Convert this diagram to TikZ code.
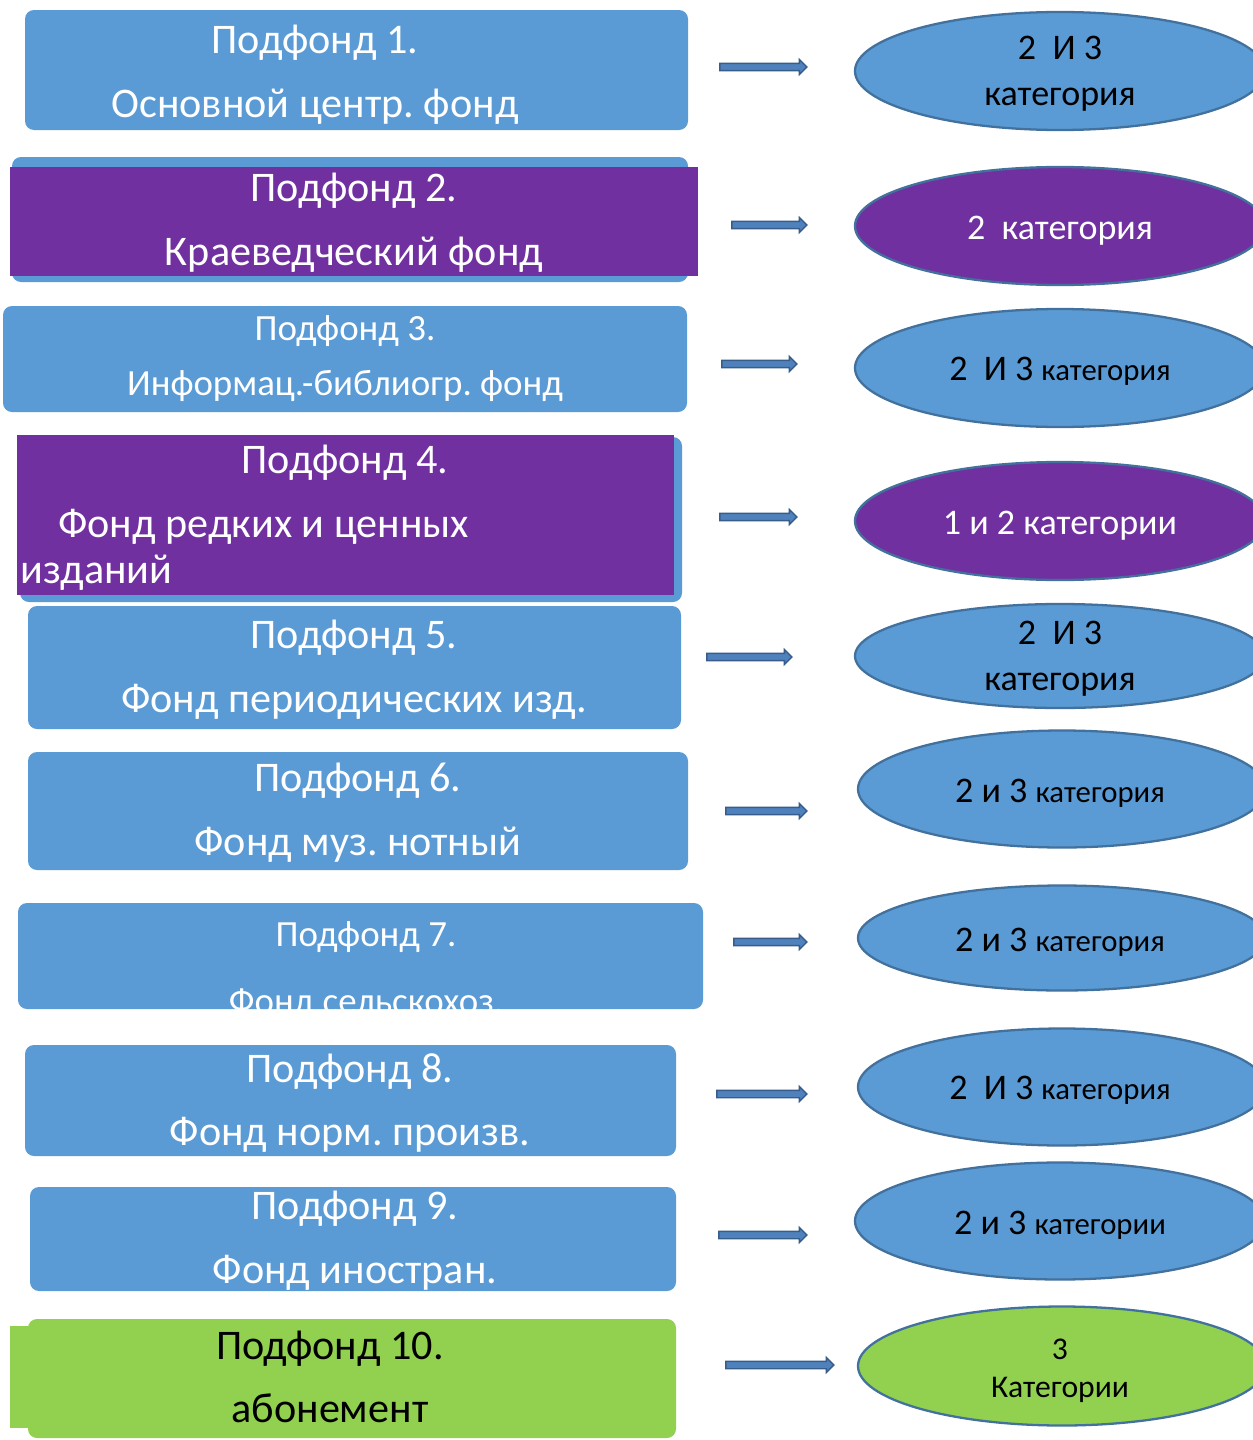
\documentclass[tikz,border=0pt]{standalone}
\usepackage{fontspec}
\setmainfont{Carlito}
\frenchspacing
\usetikzlibrary{shapes.geometric,shapes.arrows}
\definecolor{bfill}{HTML}{5B9BD5}
\definecolor{pfill}{HTML}{7030A0}
\definecolor{gfill}{HTML}{92D050}
\definecolor{eline}{HTML}{41719C}
\definecolor{afill}{HTML}{4F81BD}
\definecolor{aline}{HTML}{385D8A}
\def\pxu{0.02cm}
\tikzset{
  box/.style={rectangle, rounded corners=0.18cm, inner sep=0pt, fill=#1},
  flat/.style={rectangle, inner sep=0pt, fill=#1},
  oval/.style={ellipse, draw=eline, line width=1.3pt, inner sep=0pt, fill=#1},
  blockarrow/.style={single arrow, draw=aline, fill=afill, line width=0.8pt,
    inner sep=1.7pt, single arrow head extend=0.075cm, minimum width=0pt},
  bigtxt/.style={text=white, align=center, inner sep=0pt,
    font=\fontsize{24}{36.3}\selectfont},
  midtxt/.style={text=white, align=center, inner sep=0pt,
    font=\fontsize{21}{31.7}\selectfont},
  etxt/.style={align=center, inner sep=0pt, font=\fontsize{20.5}{26}\selectfont},
}
\newcommand{\smk}[1]{{\fontsize{17.5}{22}\selectfont #1}}
\begin{document}
\begin{tikzpicture}[x=0.02cm, y=-0.02cm]
\clip (0,0) rectangle (1253,1440);
\fill[white] (0,0) rectangle (1253,1440);
% ---------- left boxes ----------
\node[box=bfill, minimum width=663*\pxu, minimum height=120*\pxu] (b1) at (356.5,70) {};
\node[bigtxt] (t1) at (315,75) {Подфонд 1.\\Основной центр. фонд};

\node[box=bfill, minimum width=676*\pxu, minimum height=125*\pxu] (b2back) at (350,219.5) {};
\node[flat=pfill, minimum width=688*\pxu, minimum height=109*\pxu] (b2) at (354,221.5) {};
\node[bigtxt] (t2) at (354,223) {Подфонд 2.\\Краеведческий фонд};

\node[box=bfill, minimum width=684*\pxu, minimum height=106*\pxu] (b3) at (345,359) {};
\node[midtxt] (t3) at (345,358.5) {Подфонд 3.\\Информац.-библиогр. фонд};

\node[box=bfill, minimum width=662*\pxu, minimum height=165*\pxu] (b4back) at (351,519.5) {};
\node[flat=pfill, minimum width=657*\pxu, minimum height=160*\pxu] (b4) at (345.5,515) {};
\node[bigtxt] (t4a) at (345,463) {Подфонд 4.};
\node[bigtxt, anchor=west] (t4b) at (58,527) {Фонд редких и ценных};
\node[bigtxt, anchor=west] (t4c) at (20,573) {изданий};

\node[box=bfill, minimum width=653*\pxu, minimum height=123*\pxu] (b5) at (354.5,667.5) {};
\node[bigtxt] (t5) at (354,670) {Подфонд 5.\\Фонд периодических изд.};

\node[box=bfill, minimum width=660*\pxu, minimum height=118*\pxu] (b6) at (358,811) {};
\node[bigtxt] (t6) at (358,813) {Подфонд 6.\\Фонд муз. нотный};

\node[box=bfill, minimum width=685*\pxu, minimum height=106*\pxu] (b7) at (360.5,956) {};
\node[midtxt] (t7a) at (366,937.5) {Подфонд 7.};
\node[midtxt] (t7b) at (366,1004) {Фонд сельскохоз.};

\node[box=bfill, minimum width=651*\pxu, minimum height=111*\pxu] (b8) at (350.5,1100.5) {};
\node[bigtxt] (t8) at (350,1103) {Подфонд 8.\\Фонд норм. произв.};

\node[box=bfill, minimum width=646*\pxu, minimum height=104*\pxu] (b9) at (353,1239) {};
\node[bigtxt] (t9) at (355,1241) {Подфонд 9.\\Фонд иностран.};

\node[flat=gfill, minimum width=50*\pxu, minimum height=102*\pxu] (b10side) at (35,1377) {};
\node[box=gfill, minimum width=648*\pxu, minimum height=119*\pxu] (b10) at (352,1378.5) {};
\node[bigtxt, text=black] (t10) at (330,1377) {Подфонд 10.\\абонемент};

% ---------- arrows ----------
\node[blockarrow, minimum height=87*\pxu] (a1) at (761.5,67) {};
\node[blockarrow, minimum height=75*\pxu] (a2) at (767.5,225) {};
\node[blockarrow, minimum height=75*\pxu] (a3) at (757.5,364) {};
\node[blockarrow, minimum height=77*\pxu] (a4) at (756.5,517) {};
\node[blockarrow, minimum height=85*\pxu] (a5) at (747.5,657) {};
\node[blockarrow, minimum height=81*\pxu] (a6) at (764.5,811) {};
\node[blockarrow, minimum height=73*\pxu] (a7) at (768.5,942) {};
\node[blockarrow, minimum height=90*\pxu] (a8) at (760,1094) {};
\node[blockarrow, minimum height=88*\pxu] (a9) at (761,1235) {};
\node[blockarrow, minimum height=108*\pxu] (a10) at (778,1365) {};

% ---------- ellipses ----------
\node[oval=bfill, minimum width=410*\pxu, minimum height=118*\pxu] (e1) at (1060,71) {};
\node[etxt] (et1) at (1060,74) {2~~И 3\\категория};

\node[oval=pfill, minimum width=410*\pxu, minimum height=118*\pxu] (e2) at (1060,226) {};
\node[etxt, text=white] (et2) at (1060,231) {2~~категория};

\node[oval=bfill, minimum width=410*\pxu, minimum height=118*\pxu] (e3) at (1060,368) {};
\node[etxt] (et3) at (1060,371) {2~~И 3 \smk{категория}};

\node[oval=pfill, minimum width=410*\pxu, minimum height=118*\pxu] (e4) at (1060,521) {};
\node[etxt, text=white] (et4) at (1060,526) {1 и 2 категории};

\node[oval=bfill, minimum width=410*\pxu, minimum height=104*\pxu] (e5) at (1060,656) {};
\node[etxt] (et5) at (1060,659) {2~~И 3\\категория};

\node[oval=bfill, minimum width=408*\pxu, minimum height=117*\pxu] (e6) at (1062,789) {};
\node[etxt] (et6) at (1060,793) {2 и 3 \smk{категория}};

\node[oval=bfill, minimum width=408*\pxu, minimum height=105*\pxu] (e7) at (1062,938) {};
\node[etxt] (et7) at (1060,942) {2 и 3 \smk{категория}};

\node[oval=bfill, minimum width=408*\pxu, minimum height=117*\pxu] (e8) at (1062,1087) {};
\node[etxt] (et8) at (1060,1090) {2~~И 3 \smk{категория}};

\node[oval=bfill, minimum width=410*\pxu, minimum height=117*\pxu] (e9) at (1060,1221) {};
\node[etxt] (et9) at (1060,1225) {2 и 3 \smk{категории}};

\node[oval=gfill, minimum width=408*\pxu, minimum height=119*\pxu] (e10) at (1062,1366) {};
\node[align=center, inner sep=0pt, font=\fontsize{18}{21.5}\selectfont] (et10) at (1060,1371) {3\\Категории};
\end{tikzpicture}
\end{document}
